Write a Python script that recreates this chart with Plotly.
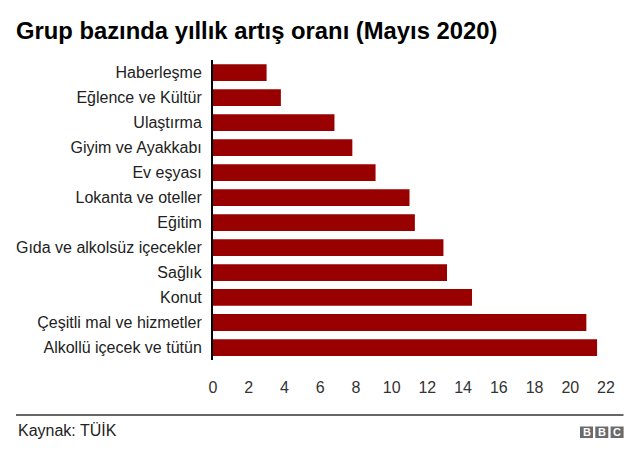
import plotly.graph_objects as go

categories = ["Haberleşme", "Eğlence ve Kültür", "Ulaştırma", "Giyim ve Ayakkabı",
              "Ev eşyası", "Lokanta ve oteller", "Eğitim", "Gıda ve alkolsüz içecekler",
              "Sağlık", "Konut", "Çeşitli mal ve hizmetler", "Alkollü içecek ve tütün"]
values = [3.0, 3.8, 6.8, 7.8, 9.1, 11.0, 11.3, 12.9, 13.1, 14.5, 20.9, 21.5]
x_ticks = list(range(0, 23, 2))

W, H = 640, 459
L, R, T, B = 213, 34, 60, 99
pw, ph = W - L - R, H - T - B

def px(x):
    return (x - L) / pw

def py(y):
    return (H - B - y) / ph

FONT = "Liberation Sans, Arial, sans-serif"

fig = go.Figure(go.Bar(
    x=values, y=categories, orientation="h",
    marker=dict(color="#990000", line=dict(width=0)),
    width=0.67,
))

fig.update_layout(
    width=W, height=H,
    margin=dict(l=L, r=R, t=T, b=B),
    paper_bgcolor="white", plot_bgcolor="white",
    font=dict(family=FONT, size=16, color="#222222"),
    showlegend=False,
    bargap=0.33,
    title=dict(text="<b>Grup bazında yıllık artış oranı (Mayıs 2020)</b>",
               xref="container", x=16 / W, xanchor="left",
               yref="container", y=1 - 31 / H, yanchor="middle",
               font=dict(size=23.8, color="#000000", family=FONT)),
    xaxis=dict(range=[0, 22], tickvals=x_ticks, showgrid=False, zeroline=False,
               showline=False, ticks="", ticklabelstandoff=16,
               tickfont=dict(size=16, color="#333333")),
    yaxis=dict(autorange="reversed", showgrid=False, zeroline=False,
               showline=True, linecolor="#000000", linewidth=2, ticks="",
               ticklabelstandoff=6, tickfont=dict(size=16, color="#222222")),
)

shapes = [dict(type="line", xref="paper", yref="paper",
               x0=px(16), x1=px(623.5), y0=py(415), y1=py(415),
               line=dict(color="#333333", width=1.6))]
annotations = [dict(text="Kaynak: TÜİK", xref="paper", yref="paper",
                     x=px(16), y=py(430.5), xanchor="left", yanchor="middle",
                     showarrow=False, font=dict(size=16, color="#222222", family=FONT))]

# BBC logo
for i, letter in enumerate(["B", "B", "C"]):
    x0 = 580 + i * 15.3
    shapes.append(dict(type="rect", xref="paper", yref="paper",
                       x0=px(x0), x1=px(x0 + 13), y0=py(438), y1=py(426.5),
                       fillcolor="#6b6b6b", line=dict(width=0)))
    annotations.append(dict(text="<b>" + letter + "</b>", xref="paper", yref="paper",
                            x=px(x0 + 6.5), y=py(432.3), xanchor="center", yanchor="middle",
                            showarrow=False, font=dict(size=11, color="white", family=FONT)))

fig.update_layout(shapes=shapes, annotations=annotations)
fig.write_html("out.html")
